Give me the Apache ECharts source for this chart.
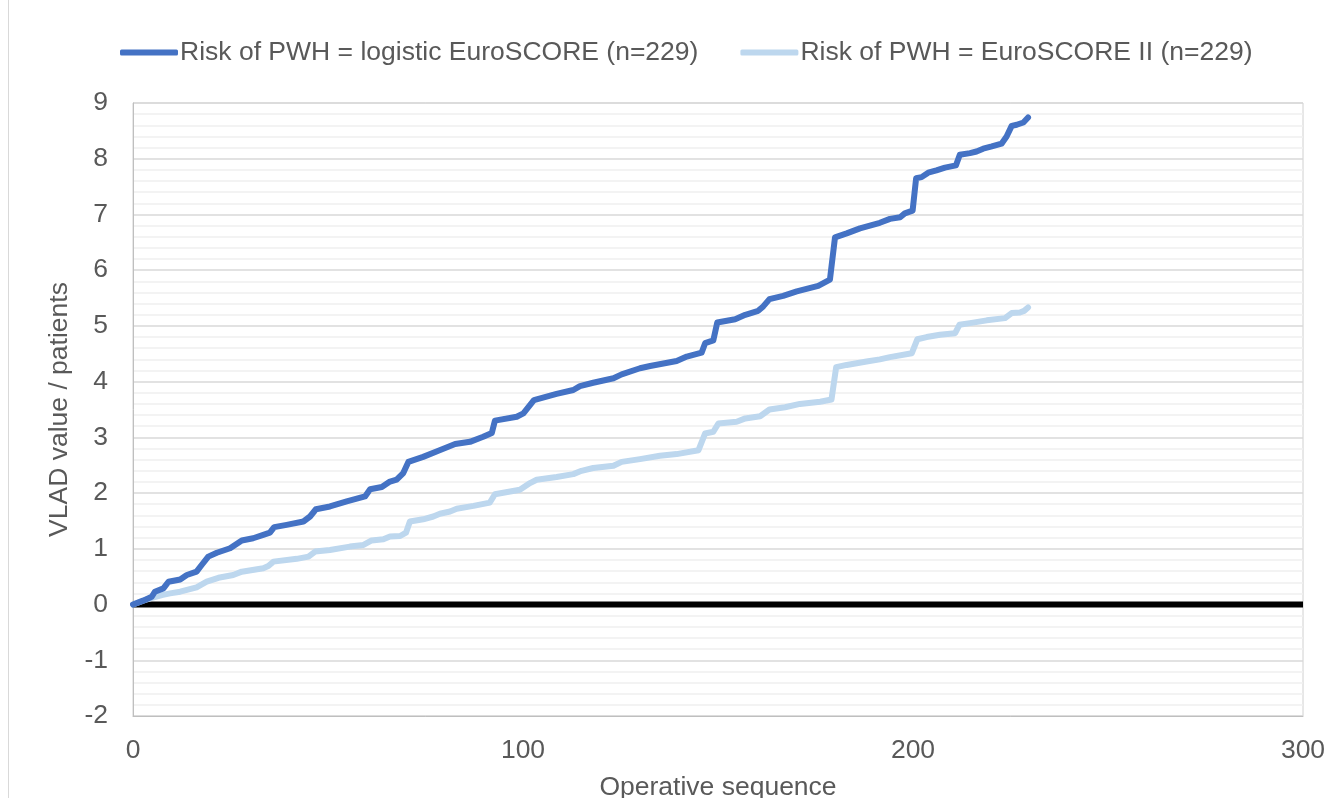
<!DOCTYPE html>
<html>
<head>
<meta charset="utf-8">
<script src="https://cdn.jsdelivr.net/npm/echarts@6/dist/echarts.min.js"></script>
<style>
  html, body { margin: 0; padding: 0; background: #fff; }
  #chart { position: absolute; left: 0; top: 0; width: 1344px; height: 798px; }
  #edge { position: absolute; left: 8px; top: 0; width: 1px; height: 798px; background: #d9d9d9; }
</style>
</head>
<body>
<div id="chart"></div>
<div id="edge"></div>
<script>
// VLAD 曲线：两种风险模型下的累计值
const SERIES_NAMES = [
  'Risk of PWH = logistic EuroSCORE (n=229)',
  'Risk of PWH = EuroSCORE II (n=229)'
];

// logistic EuroSCORE
const logSeq = [0, 2.6, 4.8, 5.6, 7.8, 9.1, 12.1, 13.8, 16.3, 17.6, 19.3, 21.5, 24.9, 27.9, 30.8, 33.4, 35.1, 36.2, 39.4, 43.7,
  45.4, 46.9, 50.5, 54.8, 59.5, 60.8, 63.8, 65.7, 67.6, 69.3, 70.6, 74.4, 78.3, 82.6, 86.4, 89.8, 92, 92.8, 98.4, 100.1,
  102.8, 108.6, 112.9, 114.6, 118, 123.2, 125.3, 130, 132.6, 139.4, 142, 145.8, 146.7, 148.8, 149.8, 154.4, 157, 160.3, 161.6, 163.2,
  166.7, 170.2, 175.7, 178.7, 180, 183, 186.4, 191.5, 194.1, 196.7, 197.9, 199.9, 200.8, 202.2, 203.9, 206, 208.2, 211, 212, 214.6,
  216.3, 218, 220.2, 222.7, 224, 225.3, 226.6, 228.3, 229.5];
const logVlad = [0, 0.07, 0.14, 0.23, 0.29, 0.41, 0.45, 0.53, 0.59, 0.71, 0.86, 0.93, 1.01, 1.15, 1.19, 1.25, 1.29, 1.39, 1.43, 1.49,
  1.58, 1.71, 1.76, 1.85, 1.94, 2.07, 2.11, 2.2, 2.24, 2.36, 2.56, 2.65, 2.76, 2.88, 2.92, 3.01, 3.08, 3.3, 3.37, 3.43,
  3.67, 3.78, 3.85, 3.92, 3.98, 4.06, 4.13, 4.24, 4.28, 4.37, 4.45, 4.52, 4.69, 4.74, 5.06, 5.12, 5.2, 5.27, 5.35, 5.48,
  5.54, 5.62, 5.72, 5.83, 6.59, 6.66, 6.75, 6.85, 6.92, 6.95, 7.02, 7.07, 7.65, 7.67, 7.75, 7.79, 7.84, 7.88, 8.07, 8.1,
  8.13, 8.18, 8.22, 8.27, 8.4, 8.59, 8.61, 8.65, 8.74];

// EuroSCORE II
const es2Seq = [0, 2.6, 4.4, 7.4, 9.5, 12.1, 16.3, 18.9, 21.9, 25.7, 27.9, 33.4, 34.7, 36, 42, 45, 46.7, 50.5, 55.6, 59.1,
  61.2, 64.2, 65.9, 68.5, 70, 71, 74.4, 77, 78.7, 81.3, 83, 87.3, 91.5, 92.8, 99.2, 101.8, 103.5, 108.6, 112.9, 115,
  118, 123.2, 125.3, 130, 135.1, 139.4, 145, 146.7, 148.8, 150.1, 154.8, 157, 160.8, 163.2, 167.2, 171, 176.2, 179.1, 180.3, 183,
  188.1, 191.5, 194.1, 199.7, 201.1, 203.5, 206.9, 210.8, 211.9, 214.6, 218.9, 223.6, 225.3, 227.4, 228.5, 229.5];
const es2Vlad = [0, 0.07, 0.11, 0.17, 0.2, 0.23, 0.31, 0.41, 0.48, 0.53, 0.59, 0.65, 0.69, 0.77, 0.82, 0.86, 0.95, 0.98, 1.04, 1.07,
  1.15, 1.17, 1.22, 1.23, 1.29, 1.49, 1.53, 1.58, 1.63, 1.67, 1.72, 1.77, 1.83, 1.98, 2.06, 2.18, 2.24, 2.29, 2.34, 2.4,
  2.45, 2.49, 2.56, 2.61, 2.67, 2.7, 2.77, 3.07, 3.1, 3.25, 3.28, 3.34, 3.38, 3.5, 3.54, 3.6, 3.64, 3.68, 4.26, 4.3,
  4.36, 4.4, 4.44, 4.51, 4.76, 4.8, 4.84, 4.87, 5.02, 5.05, 5.1, 5.14, 5.23, 5.24, 5.27, 5.33];

// 零基准线
const zeroSeq = [0, 300];
const zeroVlad = [0, 0];

const zip = (xs, ys) => xs.map((x, i) => [x, ys[i]]);

const FONT = '"Liberation Sans", Arial, sans-serif';
const TEXT = '#595959';
const FS = 26.5;

const chart = echarts.init(document.getElementById('chart'));
chart.setOption({
  animation: false,
  textStyle: { fontFamily: FONT },
  legend: {
    top: 39,
    left: 120,
    padding: 0,
    itemGap: 42,
    itemWidth: 58,
    itemHeight: 6,
    icon: 'roundRect',
    data: SERIES_NAMES,
    textStyle: { fontSize: FS, color: TEXT, fontFamily: FONT, padding: [0, 0, 0, -3] }
  },
  grid: {
    left: 133, right: 41, top: 103, bottom: 82,
    show: true, borderColor: '#d0d0d0', borderWidth: 1,
    containLabel: false, outerBoundsMode: 'none'
  },
  xAxis: {
    type: 'value',
    min: 0, max: 300, interval: 100,
    name: 'Operative sequence',
    nameLocation: 'middle',
    nameGap: 58,
    nameTextStyle: { fontSize: FS, color: TEXT, fontFamily: FONT },
    axisLine: { onZero: false, lineStyle: { color: '#bfbfbf', width: 1 } },
    axisTick: { show: false },
    axisLabel: { fontSize: FS, color: TEXT, margin: 21, fontFamily: FONT },
    splitLine: { show: false }
  },
  yAxis: {
    type: 'value',
    min: -2, max: 9, interval: 1,
    name: 'VLAD value / patients',
    nameLocation: 'middle',
    nameGap: 57,
    nameTextStyle: { fontSize: FS, color: TEXT, fontFamily: FONT },
    axisLine: { show: true, lineStyle: { color: '#bfbfbf', width: 1 } },
    axisTick: { show: false },
    axisLabel: { fontSize: FS, color: TEXT, margin: 25, fontFamily: FONT },
    splitLine: { show: true, lineStyle: { color: '#d9d9d9', width: 1.5 } },
    minorTick: { show: false, splitNumber: 5 },
    minorSplitLine: { show: true, lineStyle: { color: '#efefef', width: 1.5 } }
  },
  series: [
    {
      name: 'zero',
      type: 'line',
      data: zip(zeroSeq, zeroVlad),
      symbol: 'none',
      silent: true,
      z: 1,
      lineStyle: { color: '#000000', width: 6, cap: 'butt' }
    },
    {
      name: SERIES_NAMES[0],
      type: 'line',
      data: zip(logSeq, logVlad),
      symbol: 'none',
      smooth: false,
      z: 3,
      itemStyle: { color: '#4472C4' },
      lineStyle: { color: '#4472C4', width: 6, cap: 'round', join: 'round' }
    },
    {
      name: SERIES_NAMES[1],
      type: 'line',
      data: zip(es2Seq, es2Vlad),
      symbol: 'none',
      smooth: false,
      z: 2,
      itemStyle: { color: '#BDD7EE' },
      lineStyle: { color: '#BDD7EE', width: 6, cap: 'round', join: 'round' }
    }
  ]
});
</script>
</body>
</html>
